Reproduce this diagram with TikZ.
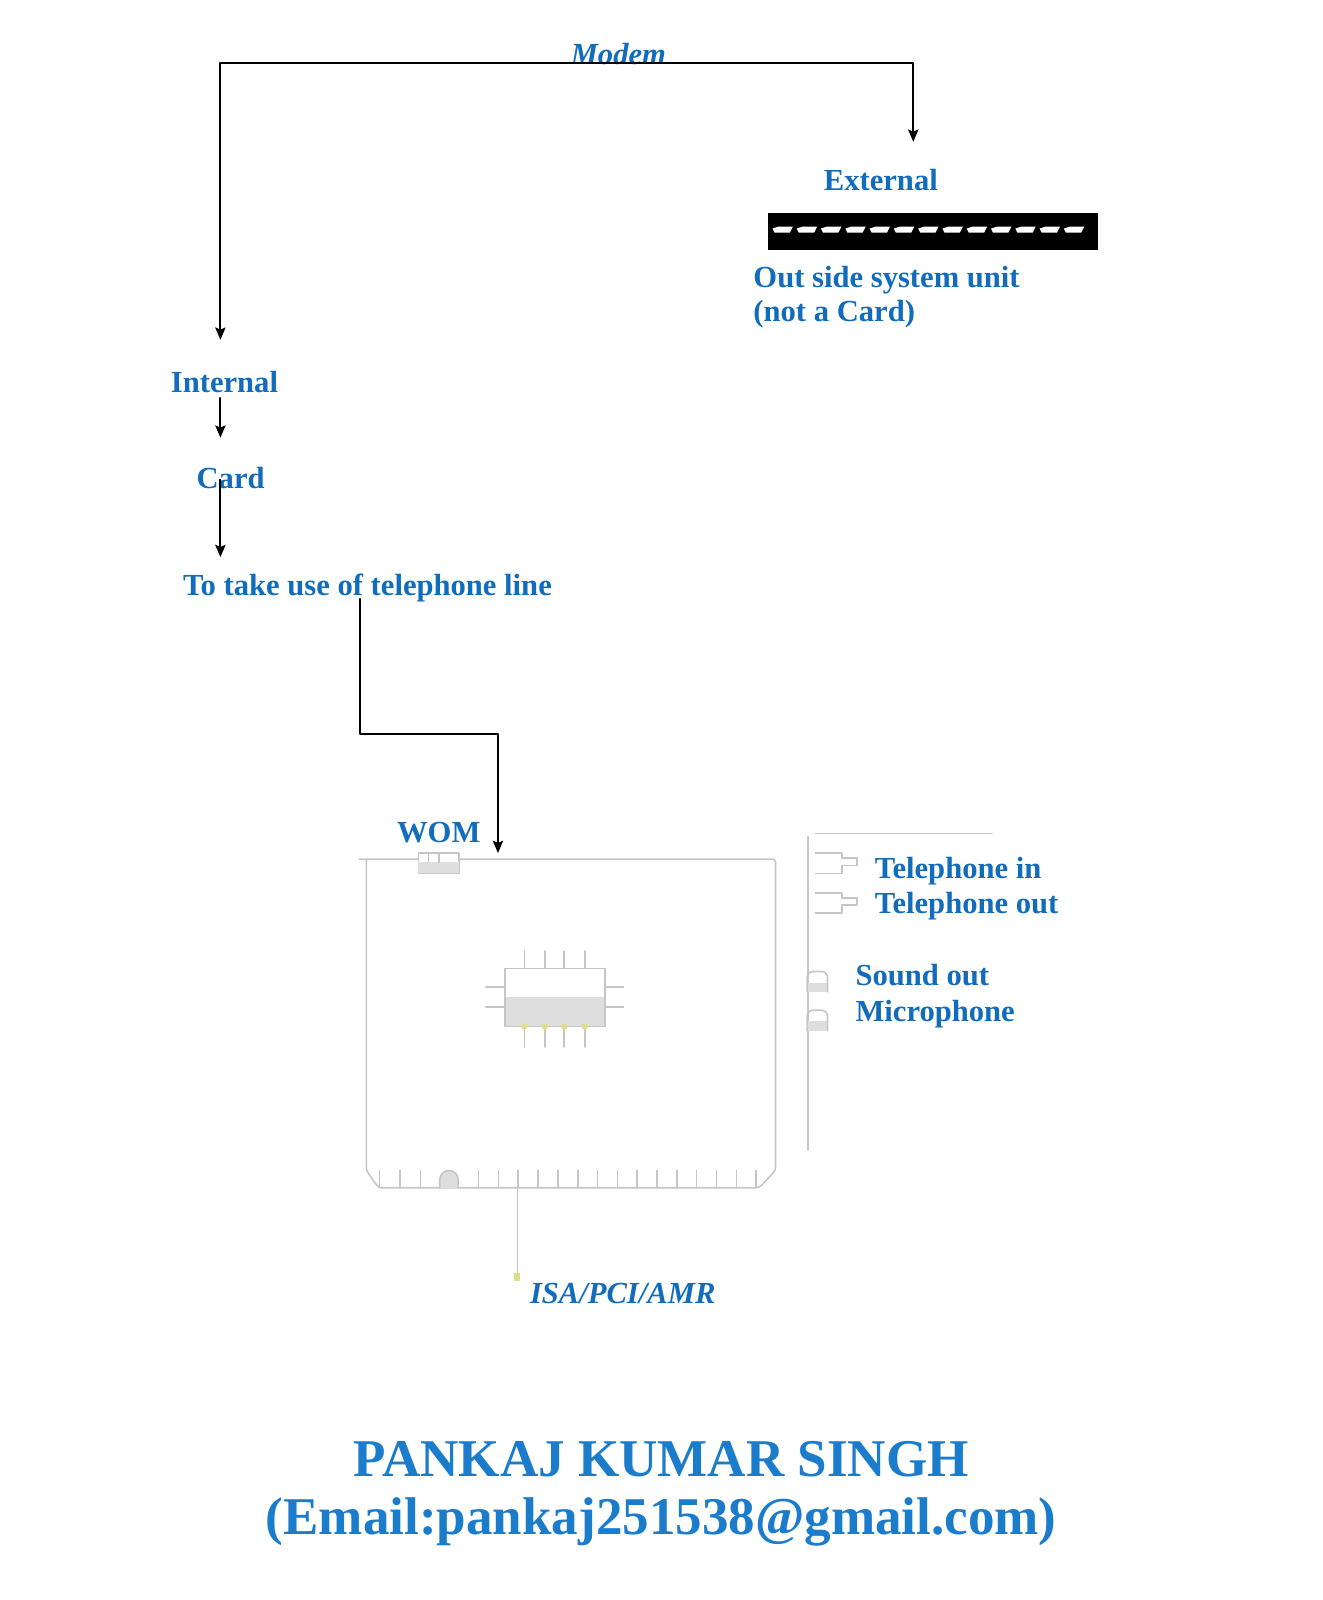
\documentclass[tikz,border=0pt]{standalone}
\usepackage{fontspec}
\setmainfont{Liberation Serif}
\usetikzlibrary{arrows.meta}
\definecolor{textblue}{RGB}{18,108,188}
\definecolor{nameblue}{RGB}{28,124,204}
\definecolor{boardgray}{RGB}{198,198,198}
\definecolor{chipgray}{RGB}{222,222,222}
\definecolor{pinyellow}{RGB}{220,224,130}
\begin{document}
\begin{tikzpicture}[x=0.5pt,y=-0.5pt,>={Stealth[length=6pt,width=5pt,inset=1pt]}, line join=round, line cap=round,
	lbl/.style={inner sep=0pt, text=textblue, font=\fontsize{15}{17}\selectfont\bfseries},
	lblit/.style={lbl, font=\fontsize{15}{17}\selectfont\bfseries\itshape},
	bigname/.style={inner sep=0pt, text=nameblue, font=\fontsize{26}{30}\selectfont\bfseries},
	link/.style={line width=1pt},
	board/.style={draw=boardgray, line width=0.8pt}]
	\useasboundingbox (0,0) rectangle (1296,1568);
	\path
	(216,62) coordinate (mL)
	(895,62) coordinate (mR)
	(216,333) coordinate (inTip)
	(895,139) coordinate (exTip)
	(216,390) coordinate (inFoot)
	(216,429) coordinate (cdTip)
	(216,470) coordinate (cdFoot)
	(216,546) coordinate (lnTip)
	(353,587) coordinate (lnFoot)
	(488,719) coordinate (bend)
	(488,836) coordinate (womTip)
	(507,1164) coordinate (isaTop)
	(507,1251) coordinate (isaEnd)
	;
	% labels
	\node[lblit, anchor=base] (modem) at (606,63) {Modem};
	\node[lbl, anchor=base west] (external) at (807,187) {External};
	\node[lbl, anchor=base west] (outside) at (738,282) {Out side system unit};
	\node[lbl, anchor=base west] (notcard) at (738,315) {(not a Card)};
	\node[lbl, anchor=base] (internal) at (220,385) {Internal};
	\node[lbl, anchor=base] (card) at (226,479) {Card};
	\node[lbl, anchor=base west] (teleline) at (179,584) {To take use of telephone line};
	\node[lbl, anchor=base] (wom) at (430,826) {WOM};
	\node[lbl, anchor=base west] (telin) at (857,861) {Telephone in};
	\node[lbl, anchor=base west] (telout) at (857,895) {Telephone out};
	\node[lbl, anchor=base west] (sound) at (838,966) {Sound out};
	\node[lbl, anchor=base west] (mic) at (838,1001) {Microphone};
	\node[lblit, anchor=base west] (isa) at (519,1277) {ISA/PCI/AMR};
	\node[bigname, anchor=base] (author) at (648,1447) {PANKAJ KUMAR SINGH};
	\node[bigname, anchor=base] (email) at (648,1504) {(Email:pankaj251538@gmail.com)};
	% arrows
	\draw[link,<->] (inTip)--(mL)--(mR)--(exTip);
	\draw[link,->] (inFoot)--(cdTip);
	\draw[link,->] (cdFoot)--(lnTip);
	\draw[link,->] (lnFoot) |- (bend)--(womTip);
	% external modem
	\fill (753,209) rectangle (1076,245);
	\foreach \i in {0,...,12}
	\fill[white] ({757+23.8*\i},224)--++(6,-2)--++(14,0)--++(-3,6)--++(-15,0)--cycle;
	% card
	\draw[board, rounded corners=1.5pt] (352,842)--(760,842)--(760,1147)--(744,1164)--(371,1164)--(359,1147)--(359,842);
	\draw[board, fill=white] (410,836) rectangle (450,856);
	\fill[chipgray] (410,845) rectangle (450,856);
	\draw[board] (420,836)--(420,845) (430,836)--(430,845);
	\foreach \x in {372,392,412}
	\draw[board] (\x,1147)--(\x,1164);
	\foreach \i in {0,...,14}
	\draw[board] ({469+19.43*\i},1147)--++(0,17);
	\draw[board, fill=chipgray] (431,1164)--(431,1156) arc[start angle=180, end angle=0, radius=4.5pt]--(449,1164);
	% chip
	\fill[chipgray] (495,977) rectangle (593,1006);
	\draw[board] (495,949) rectangle (593,1006);
	\foreach \x in {514,534,553,573}{
		\draw[board] (\x,932)--(\x,949) (\x,1006)--(\x,1026);
		\fill[pinyellow] (\x,1006) circle (1.5pt);
	}
	\foreach \y in {967,987}
	\draw[board] (476,\y)--(495,\y) (593,\y)--(611,\y);
	% bus connector
	\draw[board] (isaTop)--(isaEnd);
	\fill[pinyellow] (504,1248) rectangle (510,1255);
	% back panel
	\draw[board] (799,817)--(972,817);
	\draw[board] (792,820)--(792,1127);
	\foreach \y in {836,875}
	\draw[board] (799,\y)--++(26,0)--++(0,5)--++(15,0)--++(0,7)--++(-15,0)--++(0,8)--++(-26,0);
	\foreach \y in {952,990}{
		\fill[chipgray] (791,\y+11) rectangle (811,\y+20);
		\draw[board, rounded corners=3pt] (791,\y+20)--(791,\y)--(811,\y)--(811,\y+20);
	}
\end{tikzpicture}
\end{document}
